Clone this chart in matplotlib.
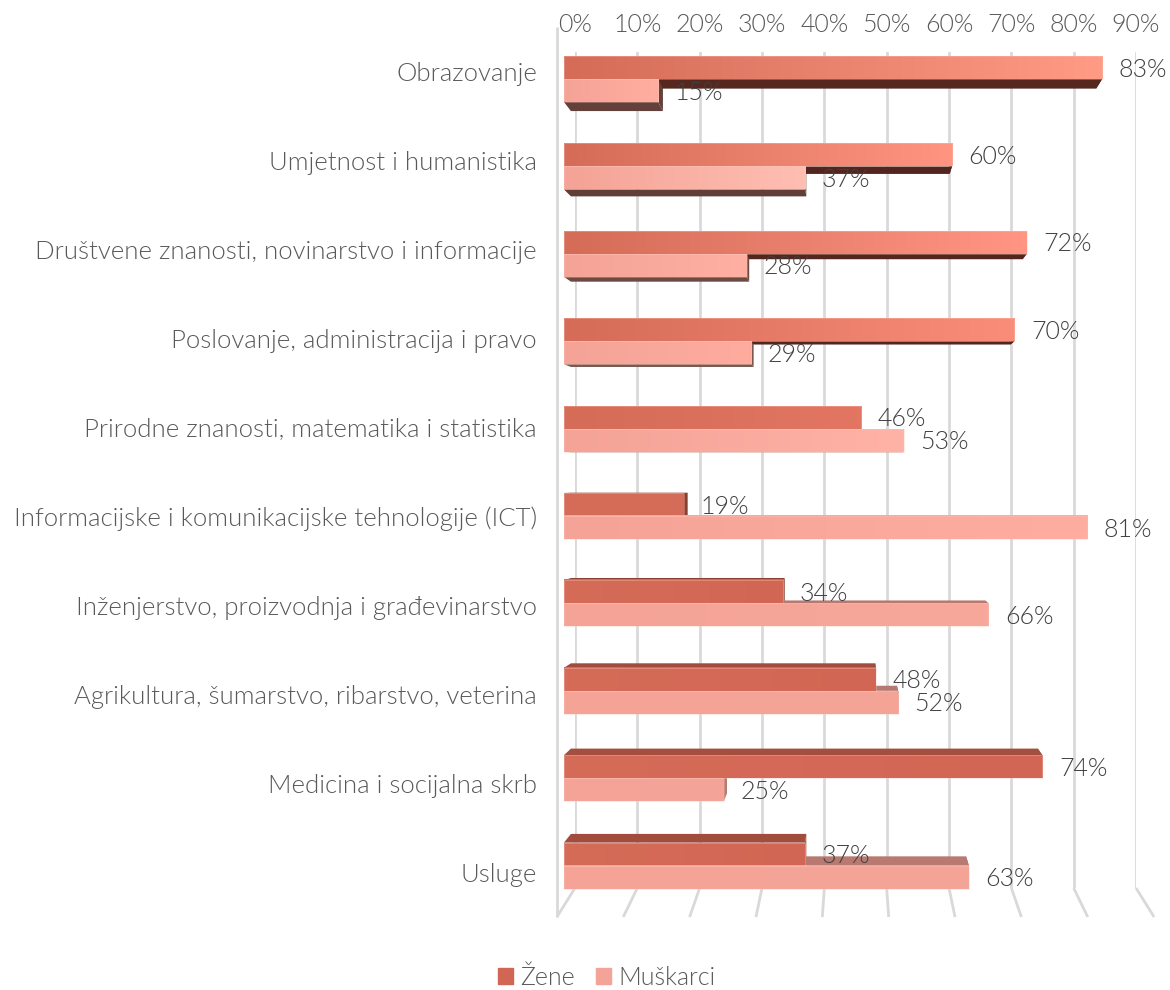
import numpy as np
import matplotlib
matplotlib.use("Agg")
import matplotlib.pyplot as plt
from matplotlib.colors import LinearSegmentedColormap
from matplotlib.patches import Patch, Polygon, Rectangle

# data
categories = [
    "Obrazovanje",
    "Umjetnost i humanistika",
    "Društvene znanosti, novinarstvo i informacije",
    "Poslovanje, administracija i pravo",
    "Prirodne znanosti, matematika i statistika",
    "Informacijske i komunikacijske tehnologije (ICT)",
    "Inženjerstvo, proizvodnja i građevinarstvo",
    "Agrikultura, šumarstvo, ribarstvo, veterina",
    "Medicina i socijalna skrb",
    "Usluge",
]
zene = [83.1, 60.0, 71.5, 69.6, 46.0, 18.7, 34.0, 48.3, 73.9, 37.4]
muskarci = [14.8, 37.4, 28.4, 29.1, 52.6, 80.8, 65.6, 51.7, 24.9, 62.6]
x_ticks = [0, 10, 20, 30, 40, 50, 60, 70, 80, 90]

# colours of the bars, left end / right end per row
zene_start = "#D46C58"
zene_end = ["#FF9A85", "#FF9581", "#FF9582", "#FA8D7A", "#E27662",
            "#D46C58", "#D26654", "#D26654", "#D26654", "#D26654"]
musk_start = "#F4A396"
musk_end = ["#FFAEA0", "#FFBEB2", "#FFB0A2", "#FFAC9F", "#FFB2A6",
            "#FFADA0", "#F7A89B", "#F4A398", "#F4A398", "#F4A398"]
zene_shade = ["#55271F", "#52261E", "#52261E", "#52261E", "#8A4030",
              "#8A4030", "#8A4030", "#A14C3C", "#A34E3E", "#A14C3C"]
musk_shade = ["#634039", "#5F3F38", "#6B4A43", "#7A5850", "#8D6A62",
              "#B87970", "#B87970", "#B87970", "#B87970", "#B87970"]

W, H = 1170, 990
BAR_VP_Y = 480      # px, perspective centre for the bars
BAR_DEPTH = 0.024
WALL_DEPTH = 0.0646
FS = 18
TEXT_W = 300

fig = plt.figure(figsize=(W / 100, H / 100), dpi=100)
plt.rcParams["font.family"] = ["Lato", "DejaVu Sans"]


def box(x0, x1, y0, y1):
    return [x0 / W, 1 - y1 / H, (x1 - x0) / W, (y1 - y0) / H]


# back wall with the grid
back = fig.add_axes(box(575, 1136, 52, 888))
back.set_xlim(0, 90)
back.set_ylim(0, 1)
back.patch.set_visible(False)
for s in back.spines.values():
    s.set_visible(False)
back.xaxis.tick_top()
back.set_xticks(x_ticks)
back.set_xticklabels([f"{t}%" for t in x_ticks], fontsize=FS, color="#595959",
                     fontweight=TEXT_W)
back.tick_params(axis="x", length=0, pad=11)
back.set_yticks([])
back.grid(axis="x", color="#D9D9D9", lw=2)
back.set_axisbelow(True)

vp_x = 45
vp_y = 0.537
scale = 1 + WALL_DEPTH
for t in x_ticks:
    back.plot([t, vp_x + (t - vp_x) * scale], [0, vp_y - vp_y * scale],
              color="#D9D9D9", lw=2, clip_on=False, solid_capstyle="butt")
left_x = vp_x - vp_x * scale
back.plot([left_x, left_x], [vp_y - vp_y * scale, vp_y + (1 - vp_y) * scale],
          color="#D9D9D9", lw=2, clip_on=False, solid_capstyle="butt")

# the category labels sit on their own, slightly wider spaced axis
pos = np.arange(len(categories))
lab_px = 88.9
lab = fig.add_axes(box(562, 1147, 72 - lab_px / 2, 72 + lab_px * (len(categories) - 0.5)))
lab.set_xlim(0, 90)
lab.set_ylim(len(categories) - 0.5, -0.5)
lab.patch.set_visible(False)
for s in lab.spines.values():
    s.set_visible(False)
lab.set_xticks([])
lab.set_yticks(pos)
lab.set_yticklabels(categories, fontsize=18.5, color="#595959", fontweight=TEXT_W)
lab.tick_params(axis="y", length=0, pad=18)

# front plane with the bars
row_px = 87.4
top_px = 79 - row_px / 2
front = fig.add_axes(box(562, 562 + 6.5 * 90, top_px, top_px + row_px * len(categories)))
front.patch.set_visible(False)
for s in front.spines.values():
    s.set_visible(False)
front.set_xticks([])
front.set_yticks([])

bar_h = 23 / row_px
x_start = 0.3
vp_row = (BAR_VP_Y - top_px) / row_px - 0.5
vp_val = (855 - 562) / 6.5


def back_pt(v, y):
    return v + (vp_val - v) * BAR_DEPTH, y + (vp_row - y) * BAR_DEPTH


def draw_sides(v, y0, y1, shade):
    # y0 is the upper edge on screen, y1 the lower one
    if y1 < vp_row:
        edge = [(x_start, y1), (v, y1), back_pt(v, y1), back_pt(x_start, y1)]
    else:
        edge = [(x_start, y0), (v, y0), back_pt(v, y0), back_pt(x_start, y0)]
    front.add_patch(Polygon(edge, closed=True, fc=shade, ec="none", zorder=3))
    side = [(v, y0), (v, y1), back_pt(v, y1), back_pt(v, y0)]
    front.add_patch(Polygon(side, closed=True, fc=shade, ec="none", zorder=3))


def draw_front(v, y0, y1, c0, c1):
    cmap = LinearSegmentedColormap.from_list("bar", [c0, c1])
    front.imshow(np.linspace(0, 1, 64).reshape(1, -1), cmap=cmap, aspect="auto",
                 extent=(x_start, v, y1, y0), zorder=4, interpolation="bilinear")
    front.add_patch(Rectangle((x_start, y0), v - x_start, y1 - y0, fill=False,
                              ec="#FFC4B8", lw=0.6, alpha=0.4, zorder=5))


def value_label(v, y):
    front.annotate(f"{v:.0f}%", (v, y), xytext=(12, -1.5), textcoords="offset points",
                   va="center", fontsize=FS, color="#404040", fontweight=TEXT_W,
                   zorder=6, annotation_clip=False)


for i in pos:
    draw_sides(zene[i], i - bar_h, i, zene_shade[i])
    draw_sides(muskarci[i], i, i + bar_h, musk_shade[i])
for i in pos:
    draw_front(zene[i], i - bar_h, i, zene_start, zene_end[i])
    draw_front(muskarci[i], i, i + bar_h, musk_start, musk_end[i])
    value_label(zene[i], i - bar_h / 2)
    value_label(muskarci[i], i + bar_h / 2)
front.set_xlim(0, 90)
front.set_ylim(len(categories) - 0.5, -0.5)

handles = [Patch(color="#D26654", label="Žene"), Patch(color="#F4A398", label="Muškarci")]
fig.legend(handles=handles, loc="center", bbox_to_anchor=(607 / W, 1 - 978 / H), ncol=2,
           frameon=False, prop={"size": FS, "weight": TEXT_W}, labelcolor="#595959",
           handlelength=0.58, handleheight=0.58, handletextpad=0.3, columnspacing=0.85,
           borderpad=0, borderaxespad=0)

fig.savefig("out.png", dpi=100)
